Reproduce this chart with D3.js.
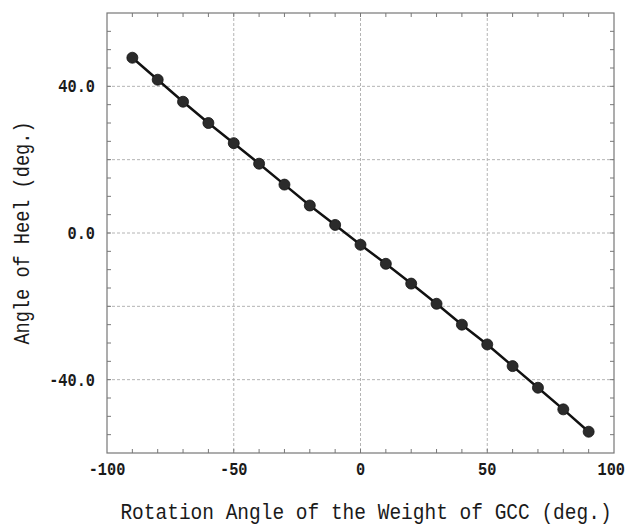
<!DOCTYPE html>
<html>
<head>
<meta charset="utf-8">
<script src="https://cdn.jsdelivr.net/npm/d3@7"></script>
<style>
  body { margin: 0; background: #fff; }
  text { font-family: "Liberation Mono", "DejaVu Sans Mono", monospace; fill: #1a1a1a; }
</style>
</head>
<body>
<div id="chart"></div>
<script>
// Data
const rotationAngle = [-90, -80, -70, -60, -50, -40, -30, -20, -10, 0, 10, 20, 30, 40, 50, 60, 70, 80, 90];
const heelAngle = [47.8, 41.8, 35.8, 30.0, 24.5, 18.9, 13.2, 7.5, 2.2, -3.2, -8.4, -13.8, -19.3, -25.0, -30.4, -36.3, -42.2, -48.1, -54.2];
const xTicks = [-100, -50, 0, 50, 100];
const yTicks = [-40, 0, 40];
const xGrid = [-50, 0, 50];
const yGrid = [-40, -20, 0, 20, 40];

const width = 628, height = 527;
const margin = { left: 107, right: 14, top: 13, bottom: 74 };

const svg = d3.select('#chart').append('svg')
    .attr('width', width)
    .attr('height', height);

const x = d3.scaleLinear().domain([-100, 100]).range([margin.left, width - margin.right]);
const y = d3.scaleLinear().domain([-60, 60]).range([height - margin.bottom, margin.top]);

// dashed grid
svg.append('g').selectAll('line')
    .data(xGrid)
    .enter().append('line')
    .attr('x1', d => x(d)).attr('x2', d => x(d))
    .attr('y1', y(60)).attr('y2', y(-60))
    .attr('stroke', '#b4b4b4').attr('stroke-width', 1)
    .attr('stroke-dasharray', '3,2');

svg.append('g').selectAll('line')
    .data(yGrid)
    .enter().append('line')
    .attr('x1', x(-100)).attr('x2', x(100))
    .attr('y1', d => y(d)).attr('y2', d => y(d))
    .attr('stroke', '#b4b4b4').attr('stroke-width', 1)
    .attr('stroke-dasharray', '3,2');

// inward minor ticks on all four sides
const tickLen = 4;
const xMinor = d3.range(-90, 100, 10);
const yMinor = d3.range(-55, 60, 5);
const ticks = svg.append('g').attr('stroke', '#777').attr('stroke-width', 1);
xMinor.forEach(v => {
    ticks.append('line').attr('x1', x(v)).attr('x2', x(v)).attr('y1', y(-60)).attr('y2', y(-60) - tickLen);
    ticks.append('line').attr('x1', x(v)).attr('x2', x(v)).attr('y1', y(60)).attr('y2', y(60) + tickLen);
});
yMinor.forEach(v => {
    ticks.append('line').attr('x1', x(-100)).attr('x2', x(-100) + tickLen).attr('y1', y(v)).attr('y2', y(v));
    ticks.append('line').attr('x1', x(100)).attr('x2', x(100) - tickLen).attr('y1', y(v)).attr('y2', y(v));
});

// frame
svg.append('rect')
    .attr('x', x(-100)).attr('y', y(60))
    .attr('width', x(100) - x(-100)).attr('height', y(-60) - y(60))
    .attr('fill', 'none').attr('stroke', '#777').attr('stroke-width', 1.2);

// tick labels (monospace, stretched a little vertically like the original)
const tickSize = 15.3, stretch = 1.2;
svg.append('g').selectAll('text')
    .data(xTicks)
    .enter().append('text')
    .attr('transform', d => {
        const half = String(d).length * tickSize * 0.3;
        return `translate(${Math.min(x(d), width - 3 - half)},${y(-60) + 22}) scale(1,${stretch})`;
    })
    .attr('text-anchor', 'middle')
    .attr('font-size', tickSize)
    .attr('font-weight', 'bold')
    .text(d => d);

const yFmt = d => d3.format('.1f')(d).replace('\u2212', '-');
svg.append('g').selectAll('text')
    .data(yTicks)
    .enter().append('text')
    .attr('transform', d => `translate(${x(-100) - 12},${y(d) + 6}) scale(1,${stretch})`)
    .attr('text-anchor', 'end')
    .attr('font-size', tickSize)
    .attr('font-weight', 'bold')
    .text(yFmt);

// axis titles
svg.append('text')
    .attr('transform', 'translate(366,519) scale(1,1.15)')
    .attr('text-anchor', 'middle')
    .attr('font-size', 19.5)
    .text('Rotation Angle of the Weight of GCC (deg.)');

svg.append('text')
    .attr('transform', 'translate(29,233) rotate(-90) scale(1,1.15)')
    .attr('text-anchor', 'middle')
    .attr('font-size', 18.6)
    .text('Angle of Heel (deg.)');

// series
const points = rotationAngle.map((r, i) => ({ r: r, h: heelAngle[i] }));

svg.append('path')
    .datum(points)
    .attr('fill', 'none')
    .attr('stroke', '#111')
    .attr('stroke-width', 2.5)
    .attr('d', d3.line().x(d => x(d.r)).y(d => y(d.h)));

svg.append('g').selectAll('circle')
    .data(points)
    .enter().append('circle')
    .attr('cx', d => x(d.r))
    .attr('cy', d => y(d.h))
    .attr('r', 5.5)
    .attr('fill', '#2b2b2b')
    .attr('stroke', '#111')
    .attr('stroke-width', 0.8);
</script>
</body>
</html>
